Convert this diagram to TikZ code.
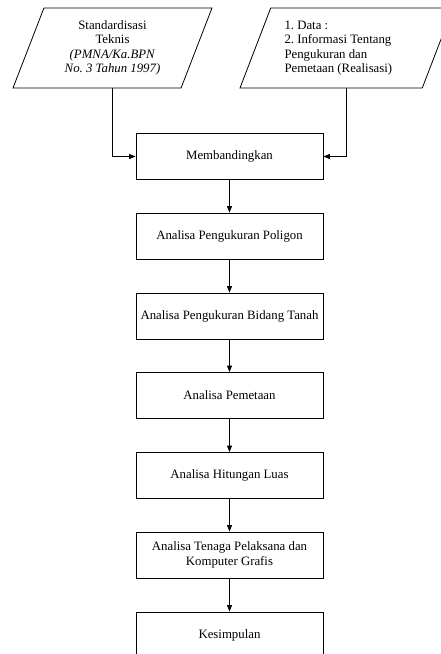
\documentclass[tikz,border=0pt]{standalone}
\usepackage{fontspec}
\setmainfont{Liberation Serif}
\usetikzlibrary{shapes.geometric,arrows.meta}
\frenchspacing
\begin{document}
\begin{tikzpicture}[x=1pt,y=-1pt,
  box/.style={draw,line width=0.8pt,minimum width=187pt,minimum height=46pt,align=center,font=\fontsize{12.8}{14.5}\selectfont},
  datain/.style={draw,line width=0.8pt,trapezium,trapezium left angle=63.4,trapezium right angle=116.6,trapezium stretches body,minimum height=80pt,font=\fontsize{12.8}{14.5}\selectfont},
  flow/.style={-{Triangle[length=6.5pt,width=5pt]},line width=0.8pt}]
\useasboundingbox (0,0) rectangle (441,654);
% (input)
\node[datain,minimum width=199pt,align=center] (std) at (112.5,48) {Standardisasi\\Teknis\\\textit{(PMNA/Ka.BPN}\\\textit{No. 3 Tahun 1997)}};
\node[datain,minimum width=213pt,text width=124pt,align=flush left] (dat) at (346.5,48) {1. Data :\\2. Informasi Tentang\\Pengukuran dan\\Pemetaan (Realisasi)};
% (process)
\node[box] (cmp) at (229.5,156.5) {Membandingkan};
\node[box] (pol) at (229.5,236) {Analisa Pengukuran Poligon};
\node[box] (bid) at (229.5,316) {Analisa Pengukuran Bidang Tanah};
\node[box] (pet) at (229.5,395.5) {Analisa Pemetaan};
\node[box] (lua) at (229.5,475.5) {Analisa Hitungan Luas};
\node[box] (ten) at (229.5,555) {Analisa Tenaga Pelaksana dan\\Komputer Grafis};
\node[box] (kes) at (229.5,635) {Kesimpulan};
% arrows
\draw[flow] (std.south) |- (cmp.west);
\draw[flow] (dat.south) |- (cmp.east);
\foreach \a/\b in {cmp/pol,pol/bid,bid/pet,pet/lua,lua/ten,ten/kes} \draw[flow] (\a) -- (\b);
\end{tikzpicture}
\end{document}
